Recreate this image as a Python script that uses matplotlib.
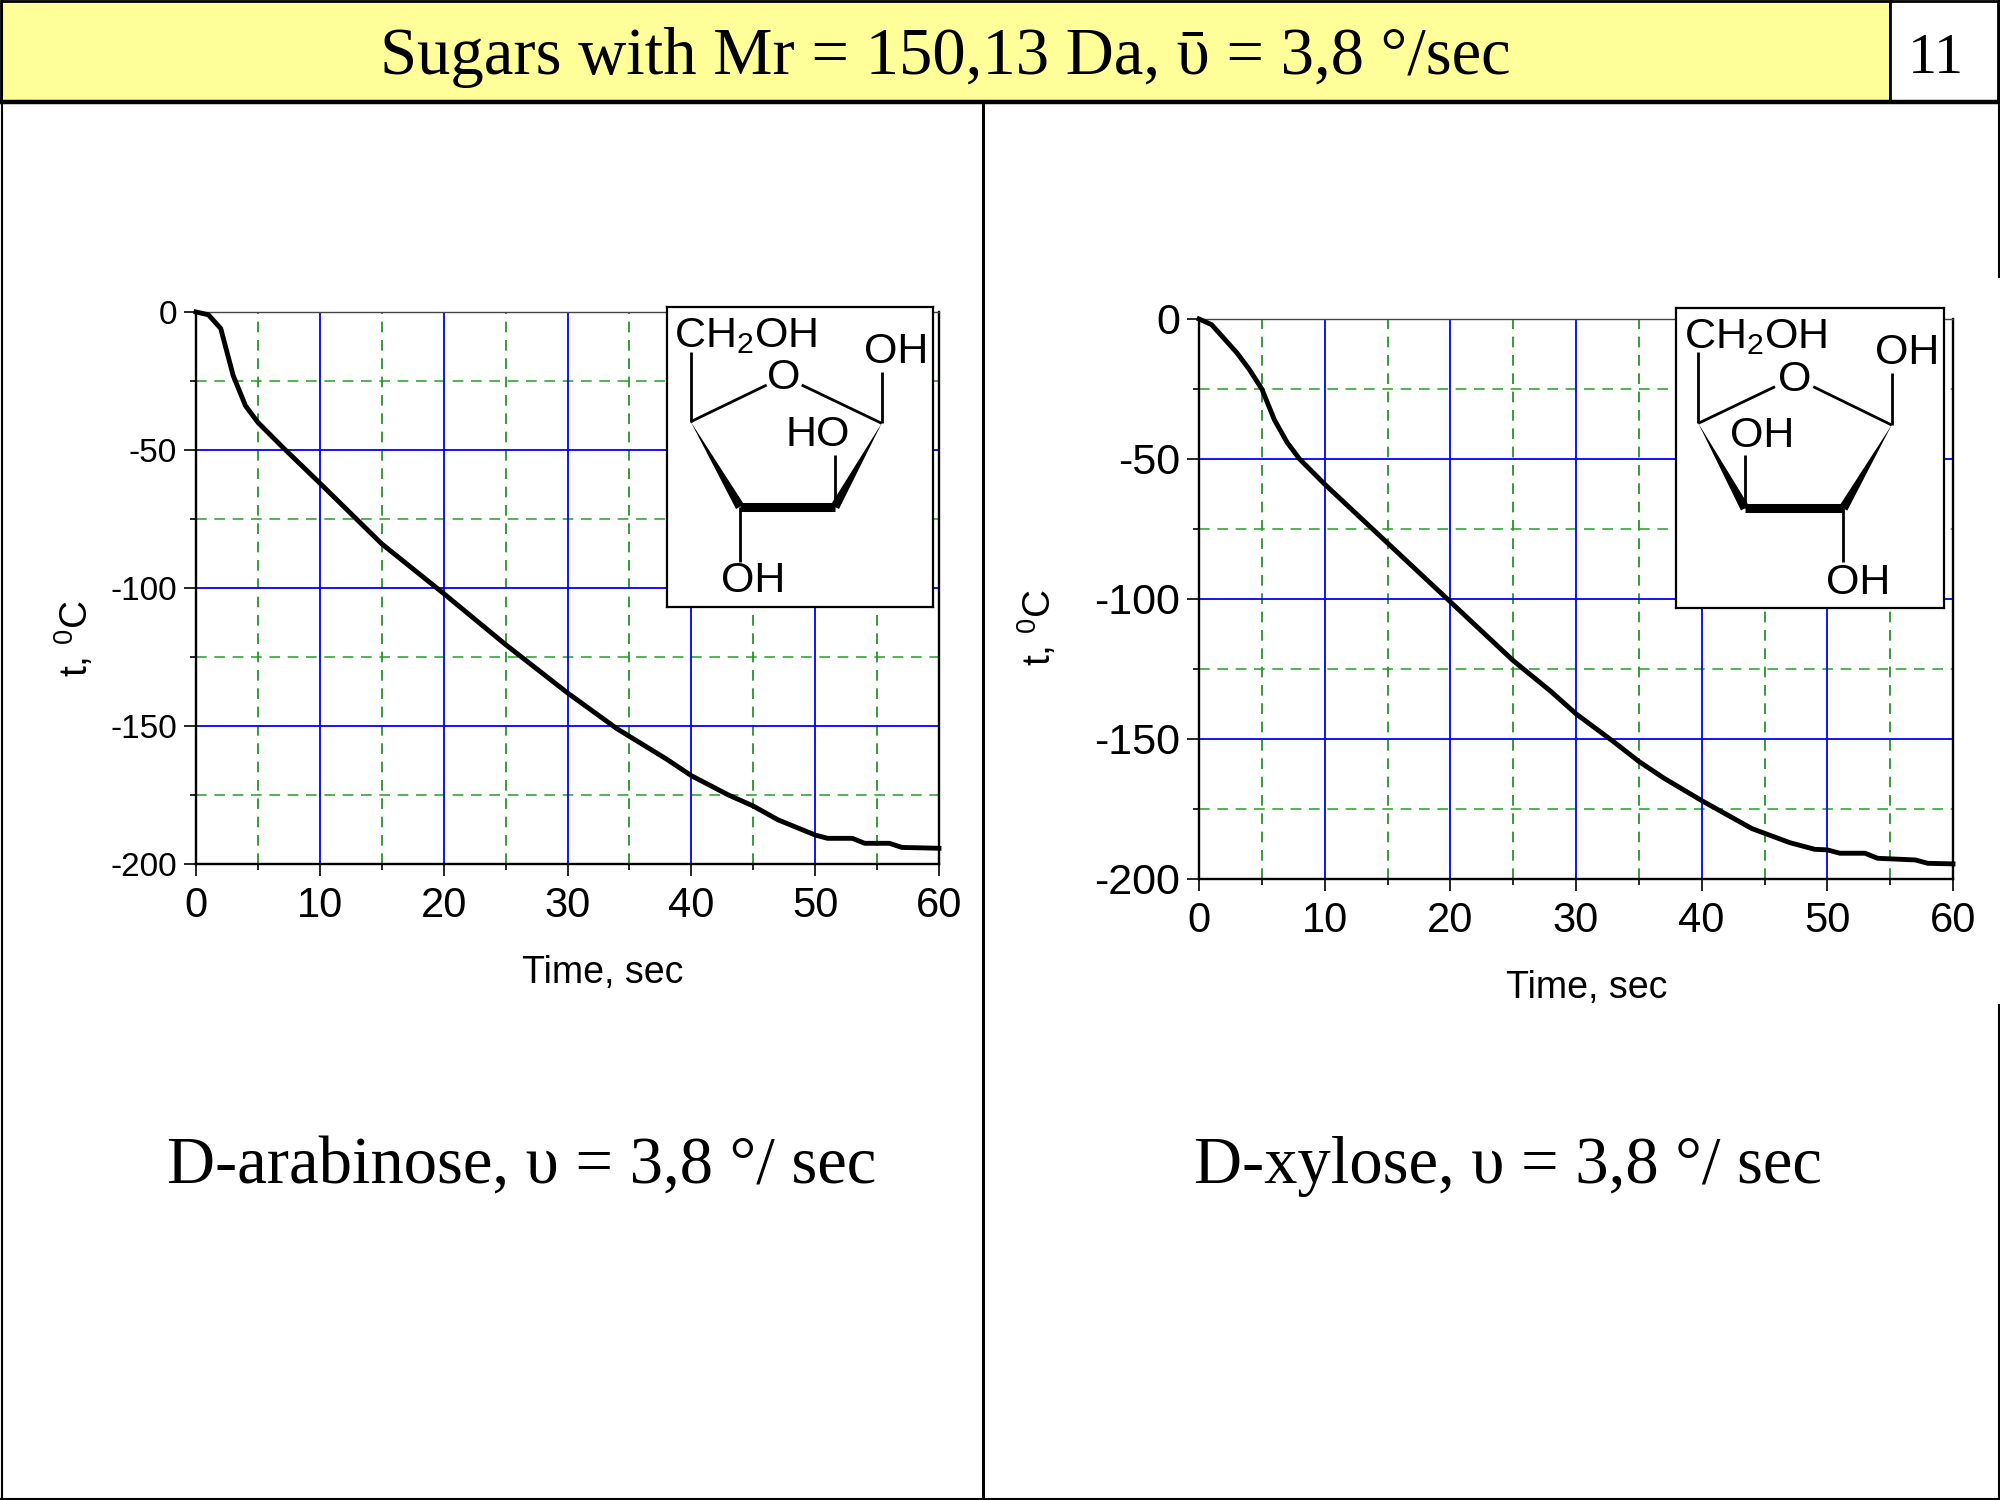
import matplotlib
matplotlib.use('Agg')
import matplotlib.pyplot as plt
from matplotlib.patches import Rectangle, Polygon
import numpy as np

# --- data ---
arab_time = [0, 1, 2, 3, 4, 5, 7, 10, 15, 20, 25, 30, 34, 38, 40, 43, 45, 47, 50, 51, 53, 54, 56, 57, 60]
arab_temp = [0, -1, -6, -23, -34, -40, -49, -62, -84, -102, -120.5, -138, -151, -162, -168, -175,
             -179, -184, -189.5, -190.7, -190.7, -192.5, -192.5, -194, -194.3]

xyl_time = [0, 1, 3, 4, 5, 6, 7, 8, 10, 15, 20, 25, 28, 30, 33, 35, 37, 40, 42, 44, 47, 49, 50,
            51, 53, 54, 57, 58, 60]
xyl_temp = [0, -2, -12, -18, -25, -36, -44, -50, -59, -80, -101, -122, -133, -141, -151, -158, -164,
            -172, -177, -182, -187, -189.4, -189.6, -190.8, -190.8, -192.6, -193.2, -194.4, -194.6]

x_major = [0, 10, 20, 30, 40, 50, 60]
x_minor = [5, 15, 25, 35, 45, 55]
y_major = [0, -50, -100, -150, -200]
y_minor = [-25, -75, -125, -175]

title = 'Sugars with Mr = 150,13 Da, \u1fe1 = 3,8 \u00b0/sec'
slide_no = '11'
captions = ['D-arabinose, \u03c5 = 3,8 \u00b0/ sec', 'D-xylose, \u03c5 = 3,8 \u00b0/ sec']

# --- style ---
W, H = 2000, 1500
plt.rcParams['font.family'] = ['Liberation Sans', 'DejaVu Sans']
plt.rcParams['mathtext.fontset'] = 'custom'
plt.rcParams['mathtext.rm'] = 'Liberation Sans'
plt.rcParams['mathtext.it'] = 'Liberation Sans:italic'
plt.rcParams['axes.unicode_minus'] = False
serif = ['Liberation Serif', 'DejaVu Serif']
c_blue = '#0000ff'
c_green_v = '#008000'
c_green_h = '#22a022'


def px_rect(x0, y0, x1, y1):
    return [x0 / W, 1 - y1 / H, (x1 - x0) / W, (y1 - y0) / H]


fig = plt.figure(figsize=(20, 15), dpi=100)

# background layer in pixel coords (slide frame, header, captions)
bg = fig.add_axes([0, 0, 1, 1])
bg.set_xlim(0, W)
bg.set_ylim(H, 0)
bg.axis('off')

bg.add_patch(Rectangle((1, 1), 1889, 101, facecolor='#ffff99', edgecolor='black', lw=2))
bg.add_patch(Rectangle((1890, 1), 108, 101, facecolor='white', edgecolor='black', lw=2))
bg.plot([0, W], [102, 102], color='black', lw=3.2)
bg.plot([1.5, 1.5], [0, H], color='black', lw=1.5)
bg.plot([0, W], [1498.5, 1498.5], color='black', lw=1.5)
bg.plot([1998.5, 1998.5], [0, 277], color='black', lw=1.5)
bg.plot([1998.5, 1998.5], [1005, H], color='black', lw=1.5)
bg.plot([983, 983], [102, H], color='black', lw=2.2)

bg.text(945, 74, title, family=serif, fontsize=48, ha='center', va='baseline')
bg.text(1936, 73, slide_no, family=serif, fontsize=42, ha='center', va='baseline')
bg.text(522, 1183, captions[0], family=serif, fontsize=48, ha='center', va='baseline')
bg.text(1508, 1183, captions[1], family=serif, fontsize=48, ha='center', va='baseline')


def cooling_chart(box, time, temp, ytick_size, xlab_pos, ylab_pos):
    ax = fig.add_axes(px_rect(*box))
    ax.set_xlim(0, 60)
    ax.set_ylim(-200, 0)
    for x in x_minor:
        ax.axvline(x, color=c_green_v, lw=1.1, linestyle=(0, (7, 5)), zorder=1)
    for y in y_minor:
        ax.axhline(y, color=c_green_h, lw=1.1, linestyle=(0, (7, 5)), zorder=1)
    for x in x_major[1:-1]:
        ax.axvline(x, color=c_blue, lw=1.3, zorder=1.2)
    for y in y_major[1:-1]:
        ax.axhline(y, color=c_blue, lw=1.3, zorder=1.2)
    ax.plot(time, temp, color='black', lw=3.5, zorder=3, clip_on=False,
            solid_joinstyle='round')

    ax.set_xticks(x_major)
    ax.set_xticks(x_minor, minor=True)
    ax.set_yticks(y_major)
    ax.set_yticks(y_minor, minor=True)
    ax.tick_params(which='major', direction='out', length=8.6, width=1.2)
    ax.tick_params(which='minor', direction='out', length=4.5, width=1.2)
    ax.tick_params(axis='x', labelsize=30, pad=7)
    ax.tick_params(axis='y', labelsize=ytick_size, pad=5)
    for s in ['left', 'bottom', 'right']:
        ax.spines[s].set_linewidth(1.7)
    ax.spines['top'].set_linewidth(1.0)
    ax.spines['top'].set_color('#444444')

    bg.text(xlab_pos[0], xlab_pos[1], 'Time, sec', fontsize=27, ha='center', va='center')
    bg.text(ylab_pos[0], ylab_pos[1], 't, $^{0}$C', fontsize=28, rotation=90,
            ha='center', va='center')
    return ax


def sugar_inset(box, s):
    ax = fig.add_axes(px_rect(*box))
    w = box[2] - box[0]
    h = box[3] - box[1]
    ax.set_xlim(0, w)
    ax.set_ylim(h, 0)
    ax.set_xticks([])
    ax.set_yticks([])
    for sp in ax.spines.values():
        sp.set_linewidth(1.6)
    lw = 2.0
    # plain bonds
    for a, b in s['bonds']:
        ax.plot([a[0], b[0]], [a[1], b[1]], color='black', lw=lw, solid_capstyle='butt')
    # wedges
    for p, q in s['wedges']:
        p = np.array(p)
        q = np.array(q)
        d = (q - p) / np.hypot(*(q - p))
        n = np.array([-d[1], d[0]]) * 4.6
        ax.add_patch(Polygon([p, q + n, q - n], closed=True, color='black', lw=0))
    a, b = s['bold']
    ax.plot([a[0], b[0]], [a[1], b[1]], color='black', lw=6.5, solid_capstyle='butt')
    # labels
    ax.text(s['ch2oh'][0], s['ch2oh'][1], 'CH$_2$OH', fontsize=31, ha='left', va='baseline')
    ax.text(s['o'][0], s['o'][1], 'O', fontsize=31, ha='center', va='center')
    for x, y, lab in s['labels']:
        ax.text(x, y, lab, fontsize=31, ha='center', va='center')
    return ax


arabinose = {
    'bonds': [((23.7, 114.7), (23.7, 44.7)),
              ((23.7, 114.7), (99.7, 78)),
              ((134.7, 78), (214.7, 116.3)),
              ((214.7, 116.3), (214.7, 64.7)),
              ((168, 199.7), (168, 148)),
              ((73, 199.7), (73, 254.7))],
    'wedges': [((23.7, 114.7), (73, 199.7)), ((214.7, 116.3), (168, 199.7))],
    'bold': ((73, 199.7), (168, 199.7)),
    'ch2oh': (7, 40),
    'o': (116.3, 71.3),
    'labels': [(228.8, 44.7, 'OH'), (150.5, 128, 'HO'), (86.3, 273.8, 'OH')],
}

xylose = {
    'bonds': [((22.3, 115.3), (22.3, 43.7)),
              ((22.3, 115.3), (99, 78.7)),
              ((137.3, 78.7), (215.7, 117)),
              ((215.7, 117), (215.7, 65.3)),
              ((69, 200.3), (69, 147)),
              ((167.3, 200.3), (167.3, 253.7))],
    'wedges': [((22.3, 115.3), (69, 200.3)), ((215.7, 117), (167.3, 200.3))],
    'bold': ((69, 200.3), (167.3, 200.3)),
    'ch2oh': (8, 40.3),
    'o': (119, 72),
    'labels': [(230.7, 44.5, 'OH'), (86.5, 127.8, 'OH'), (182.3, 274.5, 'OH')],
}

cooling_chart((196, 312, 939, 864), arab_time, arab_temp, 24, (603, 973), (74, 638))
cooling_chart((1199, 319, 1953, 879), xyl_time, xyl_temp, 31, (1587, 988), (1038, 627))
sugar_inset((667, 307, 933, 607), arabinose)
sugar_inset((1676, 308, 1944, 608), xylose)

fig.savefig('out.png', dpi=100)
